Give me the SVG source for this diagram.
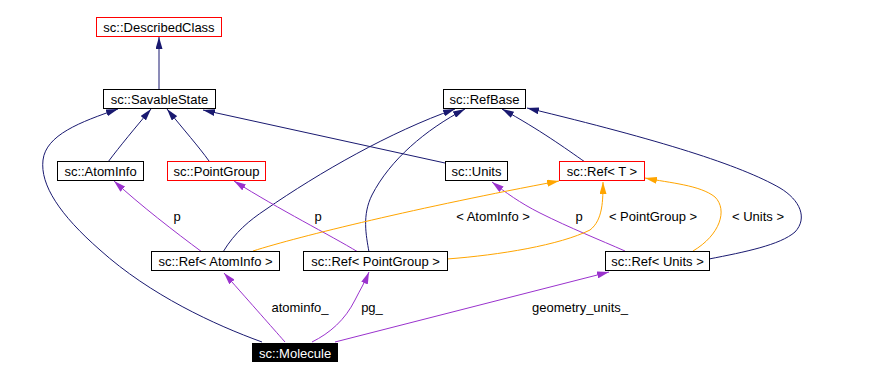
<svg xmlns="http://www.w3.org/2000/svg" width="885" height="380" viewBox="0 0 885 380">
<style>
.box{fill:#fff;stroke:#000;stroke-width:1}
.red{fill:#fff;stroke:#ff0000;stroke-width:1}
.dark{fill:#000;stroke:#000;stroke-width:1}
text{font-family:"Liberation Sans",Arial,Helvetica,sans-serif;font-size:13px;fill:#000}
.n{text-anchor:middle}
.w{fill:#fff}
.e{fill:none;stroke-width:1}
.nv{stroke:#191970}
.pu{stroke:#9a32cd}
.or{stroke:#ffa500}
.lbl{text-anchor:middle}
</style>
<defs>
<marker id="aN" viewBox="0 0 12 7" refX="12" refY="3.5" markerWidth="12" markerHeight="7" markerUnits="userSpaceOnUse" orient="auto"><path d="M0,0 L12,3.5 L0,7 z" fill="#191970"/></marker>
<marker id="aP" viewBox="0 0 12 7" refX="12" refY="3.5" markerWidth="12" markerHeight="7" markerUnits="userSpaceOnUse" orient="auto"><path d="M0,0 L12,3.5 L0,7 z" fill="#9a32cd"/></marker>
<marker id="aO" viewBox="0 0 12 7" refX="12" refY="3.5" markerWidth="12" markerHeight="7" markerUnits="userSpaceOnUse" orient="auto"><path d="M0,0 L12,3.5 L0,7 z" fill="#ffa500"/></marker>
</defs>
<g id="connectors">
<path class="e nv" marker-end="url(#aN)" d="M159,89 L159,37"/>
<path class="e nv" marker-end="url(#aN)" d="M108,162 C120,146 135,128 151,109"/>
<path class="e nv" marker-end="url(#aN)" d="M209,161 C199,147 184,130 167,109"/>
<path class="e nv" marker-end="url(#aN)" d="M262,342 C215,325 150,295 100,250 C60,215 40,185 43,160 C46,135 80,122 118,109"/>
<path class="e nv" marker-end="url(#aN)" d="M445,163 L203,110"/>
<path class="e nv" marker-end="url(#aN)" d="M223,252 C235,232 250,220 265,210 C320,172 390,132 455,109"/>
<path class="e nv" marker-end="url(#aN)" d="M369,252 C366,235 362,215 372,195 C390,160 425,130 465,109"/>
<path class="e nv" marker-end="url(#aN)" d="M585,162 C565,148 540,130 502,109"/>
<path class="e nv" marker-end="url(#aN)" d="M709,259 C745,252 780,245 795,232 C808,218 800,200 780,188 C740,165 660,140 527,108"/>
<path class="e pu" marker-end="url(#aP)" d="M202,252 C175,232 140,205 114,181"/>
<path class="e pu" marker-end="url(#aP)" d="M358,252 C330,235 280,210 234,181"/>
<path class="e pu" marker-end="url(#aP)" d="M625,251 C600,240 570,228 540,213 C520,203 505,192 492,182"/>
<path class="e or" marker-end="url(#aO)" d="M253,251 C300,236 420,207 559,181"/>
<path class="e or" marker-end="url(#aO)" d="M447,259 C500,255 560,245 590,230 C603,220 603,200 603,182"/>
<path class="e or" marker-end="url(#aO)" d="M693,251 C720,235 728,210 715,197 C700,185 670,183 645,178"/>
<path class="e pu" marker-end="url(#aP)" d="M285,342 C270,325 255,308 224,273"/>
<path class="e pu" marker-end="url(#aP)" d="M312,342 C330,333 345,320 355,300 C360,290 365,282 369,272"/>
<path class="e pu" marker-end="url(#aP)" d="M335,342 L609,272"/>
<text class="lbl" x="177" y="221">p</text>
<text class="lbl" x="318" y="221">p</text>
<text class="lbl" x="579" y="221">p</text>
<text class="lbl" x="493" y="221">&lt; AtomInfo &gt;</text>
<text class="lbl" x="653" y="221">&lt; PointGroup &gt;</text>
<text class="lbl" x="758" y="221">&lt; Units &gt;</text>
<text class="lbl" x="300" y="312">atominfo_</text>
<text class="lbl" x="372" y="312">pg_</text>
<text class="lbl" x="580" y="312">geometry_units_</text>
</g>
<g id="n_DescribedClass"><rect class="red" x="96.5" y="17.5" width="125" height="19"/><text class="n" x="159" y="32">sc::DescribedClass</text></g>
<g id="n_SavableState"><rect class="box" x="103.5" y="89.5" width="112" height="19"/><text class="n" x="159.5" y="104">sc::SavableState</text></g>
<g id="n_AtomInfo"><rect class="box" x="57.5" y="161.5" width="86" height="19"/><text class="n" x="100.5" y="176">sc::AtomInfo</text></g>
<g id="n_PointGroup"><rect class="red" x="167.5" y="161.5" width="98" height="19"/><text class="n" x="216.5" y="176">sc::PointGroup</text></g>
<g id="n_RefBase"><rect class="box" x="443.5" y="89.5" width="82" height="19"/><text class="n" x="484.5" y="104">sc::RefBase</text></g>
<g id="n_Units"><rect class="box" x="445.5" y="161.5" width="62" height="19"/><text class="n" x="476.5" y="176">sc::Units</text></g>
<g id="n_RefT"><rect class="red" x="559.5" y="161.5" width="85" height="19"/><text class="n" x="602" y="176">sc::Ref&lt; T &gt;</text></g>
<g id="n_RefAtomInfo"><rect class="box" x="151.5" y="251.5" width="128" height="19"/><text class="n" x="215.5" y="266">sc::Ref&lt; AtomInfo &gt;</text></g>
<g id="n_RefPointGroup"><rect class="box" x="303.5" y="251.5" width="144" height="19"/><text class="n" x="375.5" y="266">sc::Ref&lt; PointGroup &gt;</text></g>
<g id="n_RefUnits"><rect class="box" x="605.5" y="251.5" width="104" height="19"/><text class="n" x="657.5" y="266">sc::Ref&lt; Units &gt;</text></g>
<g id="n_Molecule"><rect class="dark" x="252.5" y="343.5" width="85" height="18"/><text class="n w" x="295" y="357.5">sc::Molecule</text></g>
</svg>
